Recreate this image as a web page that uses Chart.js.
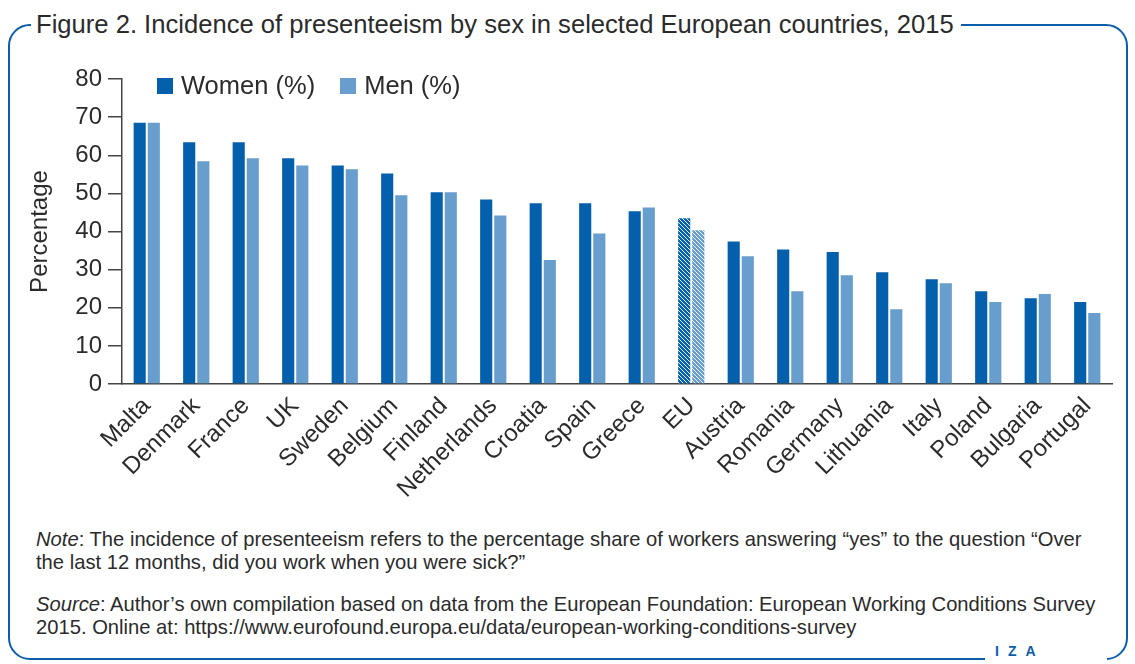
<!DOCTYPE html>
<html>
<head>
<meta charset="utf-8">
<script src="https://cdn.jsdelivr.net/npm/chart.js"></script>
<style>
    body { margin: 0; background: #fff; width: 1135px; height: 664px; position: relative; overflow: hidden;
           font-family: "Liberation Sans", Arial, sans-serif; color: #2b2b2b; }
    #frame { position: absolute; left: 8px; top: 24px; width: 1116px; height: 632px;
             border: 2.5px solid #0a5eab; border-radius: 22px; }
    #title { position: absolute; left: 31px; top: 9px; background: #fff; padding: 0 7px 0 5px;
             font-size: 25.6px; line-height: 30px; white-space: nowrap; }
    #iza { position: absolute; left: 985px; top: 640px; width: 122px; height: 24px; background: #fff;
           color: #0a5eab; font-size: 14px; font-weight: bold; letter-spacing: 9px; padding-left: 10px; box-sizing: border-box; line-height: 22px; }
    #chart-box { position: absolute; left: 0; top: 0; width: 1135px; height: 510px; }
    #legend { position: absolute; left: 157px; top: 71px; font-size: 25.5px; display: flex; }
    #legend span.item { display: flex; align-items: center; margin-right: 25px; }
    #legend span.box { width: 16px; height: 16px; margin-right: 8px; display: inline-block; }
    .notes { position: absolute; left: 36px; font-size: 20.2px; line-height: 23px; white-space: nowrap; }
</style>
</head>
<body>
<div id="frame"></div>
<div id="title">Figure 2. Incidence of presenteeism by sex in selected European countries, 2015</div>
<div id="chart-box"><canvas id="chart"></canvas></div>
<div id="legend"></div>
<div class="notes" style="top:528px"><i>Note</i>: The incidence of presenteeism refers to the percentage share of workers answering “yes” to the question “Over<br>the last 12 months, did you work when you were sick?”</div>
<div class="notes" style="top:593px"><i>Source</i>: Author’s own compilation based on data from the European Foundation: European Working Conditions Survey<br>2015. Online at: https://www.eurofound.europa.eu/data/european-working-conditions-survey</div>
<div id="iza">IZA</div>
<script>
const countries = ["Malta", "Denmark", "France", "UK", "Sweden", "Belgium", "Finland", "Netherlands",
    "Croatia", "Spain", "Greece", "EU", "Austria", "Romania", "Germany", "Lithuania", "Italy",
    "Poland", "Bulgaria", "Portugal"];
const women = [68.5, 63.4, 63.4, 59.2, 57.3, 55.2, 50.3, 48.4, 47.4, 47.4, 45.3, 43.5, 37.4, 35.3,
    34.6, 29.3, 27.5, 24.3, 22.5, 21.5];
const men = [68.5, 58.4, 59.2, 57.3, 56.3, 49.5, 50.3, 44.2, 32.5, 39.5, 46.3, 40.3, 33.5, 24.3,
    28.5, 19.6, 26.4, 21.5, 23.6, 18.6];
const yTicks = [0, 10, 20, 30, 40, 50, 60, 70, 80];

const womenColor = "#0460ac";
const menColor = "#689ecd";
const textColor = "#2b2b2b";

function stripes(color) {
    let c = document.createElement("canvas");
    c.width = 4;
    c.height = 4;
    let g = c.getContext("2d");
    g.fillStyle = color;
    g.fillRect(0, 0, 4, 4);
    g.fillStyle = "rgba(255,255,255,0.9)";
    for (let i = 0; i < 4; i++)
        g.fillRect(i, i, 1, 1);
    return g.createPattern(c, "repeat");
}

function barColors(color) {
    let hatch = stripes(color);
    return countries.map((c) => c == "EU" ? hatch : color);
}

const datasets = [
    { label: "Women (%)", data: women, color: womenColor },
    { label: "Men (%)", data: men, color: menColor },
];

const legend = document.getElementById("legend");
datasets.forEach((d) => {
    let item = document.createElement("span");
    item.className = "item";
    item.innerHTML = '<span class="box" style="background:' + d.color + '"></span>' + d.label;
    legend.appendChild(item);
});

new Chart(document.getElementById("chart"), {
    type: "bar",
    data: {
        labels: countries,
        datasets: datasets.map((d) => ({
            label: d.label,
            data: d.data,
            backgroundColor: barColors(d.color),
            borderWidth: 0,
            categoryPercentage: 0.57,
            barPercentage: 0.86,
        }))
    },
    options: {
        responsive: true,
        maintainAspectRatio: false,
        animation: false,
        devicePixelRatio: 1,
        layout: { padding: { left: 24, top: 79, right: 23, bottom: 0 } },
        plugins: {
            legend: { display: false },
            tooltip: { enabled: false },
        },
        scales: {
            x: {
                grid: { display: false, drawTicks: false },
                border: { display: true, color: "#444", width: 1.5 },
                ticks: {
                    color: textColor,
                    font: { family: "Liberation Sans", size: 24 },
                    maxRotation: 45,
                    minRotation: 45,
                    autoSkip: false,
                    padding: 8,
                },
                afterFit: (scale) => { scale.height = 126; },
            },
            y: {
                min: 0,
                max: 80,
                afterBuildTicks: (scale) => { scale.ticks = yTicks.map((v) => ({ value: v })); },
                grid: { drawOnChartArea: false, drawTicks: true, tickLength: 14, color: "#444", lineWidth: 1.5 },
                border: { display: true, color: "#444", width: 1.5 },
                ticks: {
                    color: textColor,
                    font: { family: "Liberation Sans", size: 24 },
                    padding: 6,
                },
                title: {
                    display: true,
                    text: "Percentage",
                    color: textColor,
                    font: { family: "Liberation Sans", size: 24 },
                    padding: { top: 2, bottom: 0 },
                },
                afterFit: (scale) => { scale.width = 98; },
            }
        }
    }
});
</script>
</body>
</html>
